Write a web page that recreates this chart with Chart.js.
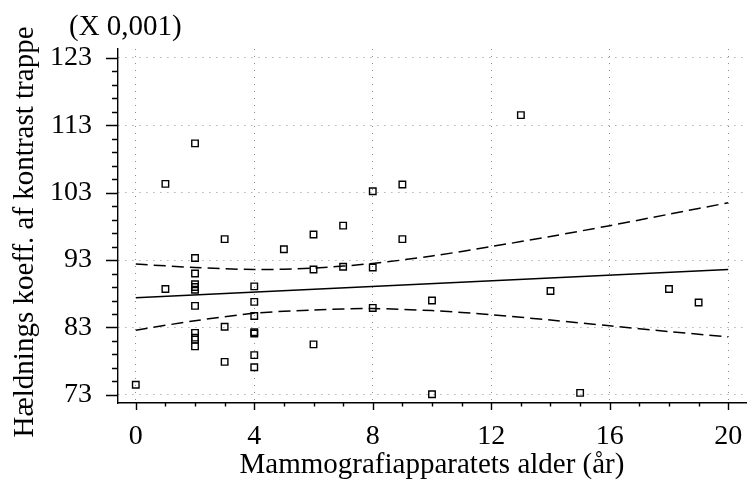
<!DOCTYPE html>
<html>
<head>
<meta charset="utf-8">
<script src="https://cdn.jsdelivr.net/npm/chart.js@4.4.1/dist/chart.umd.min.js"></script>
<style>
  html, body { margin: 0; padding: 0; background: #fff; }
</style>
</head>
<body>
<canvas id="myChart" width="752" height="480"></canvas>
<script>
// Observations: age of the mammography unit (years) vs. slope coefficient (x 0,001)
const ageX = [0, 1, 1, 2, 2, 2, 2, 2, 2, 2, 2, 2, 2, 2,
              3, 3, 3, 4, 4, 4, 4, 4, 4, 4, 5, 6, 6, 6,
              7, 7, 8, 8, 8, 9, 9, 10, 10, 13, 14, 15, 18, 19];
const slopeY = [74.5, 104.3, 88.7, 110.3, 93.3, 91.0, 89.4, 89.0, 88.6, 86.2, 82.2, 81.5, 81.2, 80.2,
                96.1, 83.1, 77.9, 89.1, 86.8, 84.7, 82.3, 82.1, 78.9, 77.1, 94.6, 96.8, 91.6, 80.5,
                98.1, 92.0, 103.2, 91.9, 85.9, 104.2, 96.1, 87.0, 73.1, 114.5, 88.4, 73.3, 88.7, 86.7];

// fitted line
const fitX = [0, 20];
const fitY = [87.4, 91.6];

// confidence limits
const bandX = [0, 2, 4, 6, 8, 10, 12, 14, 16, 18, 20];
const upperY = [92.4, 91.9, 91.6, 91.8, 92.5, 93.6, 95.0, 96.5, 98.1, 99.8, 101.5];
const lowerY = [82.6, 84.0, 85.1, 85.6, 85.8, 85.5, 84.9, 84.1, 83.25, 82.4, 81.6];

// axis ticks
const xMajor = [0, 4, 8, 12, 16, 20];
const yMajor = [73, 83, 93, 103, 113, 123];

const serif = "'Liberation Serif', 'Times New Roman', serif";

const toPoints = (xs, ys) => xs.map((x, i) => ({ x: x, y: ys[i] }));

// no extra room for overhanging tick labels, the plot box is fixed
const noPad = s => { s.paddingLeft = 0; s.paddingRight = 0; s.paddingTop = 0; s.paddingBottom = 0; };

// minor/major tick marks and the two free-standing texts
const decorations = {
  id: 'decorations',
  afterDraw(chart) {
    const ctx = chart.ctx;
    const xs = chart.scales.x;
    const ys = chart.scales.y;
    const area = chart.chartArea;
    ctx.save();
    ctx.strokeStyle = '#000';
    ctx.lineWidth = 1.4;
    ctx.beginPath();
    for (let v = 0; v <= 20; v++) {
      const px = Math.round(xs.getPixelForValue(v)) + 0.5;
      const len = xMajor.includes(v) ? 7 : 3.5;
      ctx.moveTo(px, area.bottom);
      ctx.lineTo(px, area.bottom + len);
    }
    for (let v = 73; v <= 123; v += 2) {
      const py = Math.round(ys.getPixelForValue(v)) + 0.5;
      const len = yMajor.includes(v) ? 12 : 6;
      ctx.moveTo(area.left, py);
      ctx.lineTo(area.left - len, py);
    }
    ctx.stroke();

    ctx.fillStyle = '#000';
    ctx.textBaseline = 'alphabetic';
    ctx.textAlign = 'left';
    ctx.font = '29px ' + serif;
    ctx.fillText('(X 0,001)', 69, 35);

    ctx.translate(33, 232);
    ctx.rotate(-Math.PI / 2);
    ctx.textAlign = 'center';
    ctx.font = '29px ' + serif;
    ctx.fillText('Hældnings koeff. af kontrast trappe', 0, 0);
    ctx.restore();
  }
};

const gridStyle = { drawTicks: false, color: '#8c8c8c', lineWidth: 1 };
const borderStyle = { color: '#000', width: 1.4, dash: [1, 6] };

new Chart(document.getElementById('myChart'), {
  type: 'scatter',
  data: {
    datasets: [
      {
        label: 'Observationer',
        data: toPoints(ageX, slopeY),
        pointStyle: 'rect',
        pointRadius: 4.6,
        borderColor: '#000',
        backgroundColor: 'rgba(0,0,0,0)',
        borderWidth: 1.4
      },
      {
        label: 'Regression',
        data: toPoints(fitX, fitY),
        showLine: true,
        borderColor: '#000',
        borderWidth: 1.5,
        pointRadius: 0
      },
      {
        label: 'Øvre grænse',
        data: toPoints(bandX, upperY),
        showLine: true,
        borderColor: '#000',
        borderWidth: 1.5,
        borderDash: [12, 6],
        tension: 0.3,
        pointRadius: 0
      },
      {
        label: 'Nedre grænse',
        data: toPoints(bandX, lowerY),
        showLine: true,
        borderColor: '#000',
        borderWidth: 1.5,
        borderDash: [12, 6],
        tension: 0.3,
        pointRadius: 0
      }
    ]
  },
  options: {
    responsive: false,
    animation: false,
    layout: { padding: { top: 49, right: 6, left: 0, bottom: 0 } },
    plugins: {
      legend: { display: false },
      tooltip: { enabled: false }
    },
    scales: {
      x: {
        type: 'linear',
        min: -0.6,
        max: 20.6,
        afterBuildTicks: s => { s.ticks = xMajor.map(v => ({ value: v })); },
        afterFit: s => { s.height = 77; noPad(s); },
        ticks: { color: '#000', padding: 20, maxRotation: 0, font: { family: serif, size: 28, lineHeight: 1 } },
        grid: gridStyle,
        border: borderStyle,
        title: {
          display: true,
          text: 'Mammografiapparatets alder (år)',
          color: '#000',
          padding: 0,
          font: { family: serif, size: 29, lineHeight: 1 }
        }
      },
      y: {
        type: 'linear',
        min: 71.8,
        max: 124.3,
        afterBuildTicks: s => { s.ticks = yMajor.map(v => ({ value: v })); },
        afterFit: s => { s.width = 118; noPad(s); },
        ticks: { color: '#000', padding: 26, font: { family: serif, size: 28, lineHeight: 1 } },
        grid: gridStyle,
        border: borderStyle
      }
    }
  },
  plugins: [decorations]
});
</script>
</body>
</html>
